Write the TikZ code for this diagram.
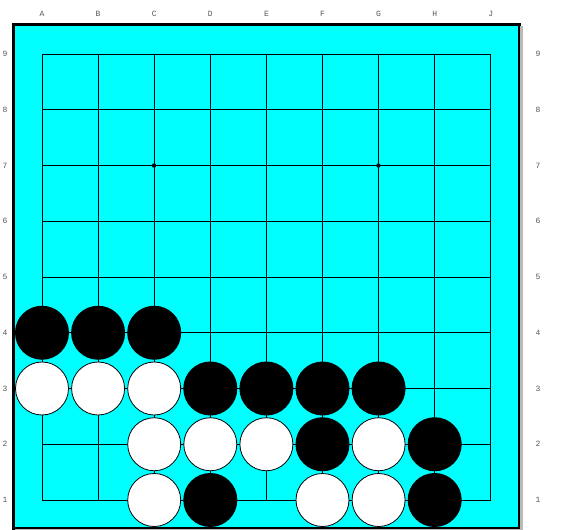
\documentclass[tikz,border=0pt]{standalone}
\usepackage{fontspec}
\setmonofont{Liberation Mono}
\usepackage{tikz}

\definecolor{goboard}{RGB}{0,255,255}
\definecolor{labelgray}{RGB}{85,85,85}
\tikzset{
  black stone/.style={fill=black},
  white stone/.style={fill=white,draw=black,line width=0.8pt},
  board label/.style={text=labelgray,font=\ttfamily\fontsize{8}{8}\selectfont,inner sep=0pt}
}

\begin{document}
\begin{tikzpicture}[x=1pt,y=-1pt]
\useasboundingbox (0,0) rectangle (566,530);
% board
\fill[gray!55] (15,26) rectangle (523,531);
\fill[goboard] (12,23) rectangle (520,528);
\draw[line width=1.5pt] (519,23) -- (519,528) -- (12,528);
\draw[line width=3pt] (13.5,531) -- (13.5,24) -- (521,24);
% grid
\foreach \i in {0,...,8} {
  \draw[line width=0.8pt] ({42+56.1*\i},54) -- ({42+56.1*\i},500);
  \draw[line width=0.8pt] (42,{54+55.75*\i}) -- (491,{54+55.75*\i});
}
\fill (154,165.5) circle(2.2);
\fill (378.4,165.5) circle(2.2);
% labels
\foreach \l [count=\i from 0] in {A,B,C,D,E,F,G,H,J}
  \node[board label] at ({42+56.1*\i},14) {\l};
\foreach \r in {1,...,9} {
  \node[board label] at (5,{500-55.75*(\r-1)}) {\r};
  \node[board label] at (538,{500-55.75*(\r-1)}) {\r};
}
% stones
\foreach \c/\r in {0/4,1/4,2/4,3/3,4/3,5/3,6/3,5/2,7/2,3/1,7/1}
  \fill[black stone] ({42+56.1*\c},{500-55.75*(\r-1)}) circle(27);
\foreach \c/\r in {0/3,1/3,2/3,2/2,3/2,4/2,6/2,2/1,5/1,6/1}
  \filldraw[white stone] ({42+56.1*\c},{500-55.75*(\r-1)}) circle(26.5);
\end{tikzpicture}
\end{document}
